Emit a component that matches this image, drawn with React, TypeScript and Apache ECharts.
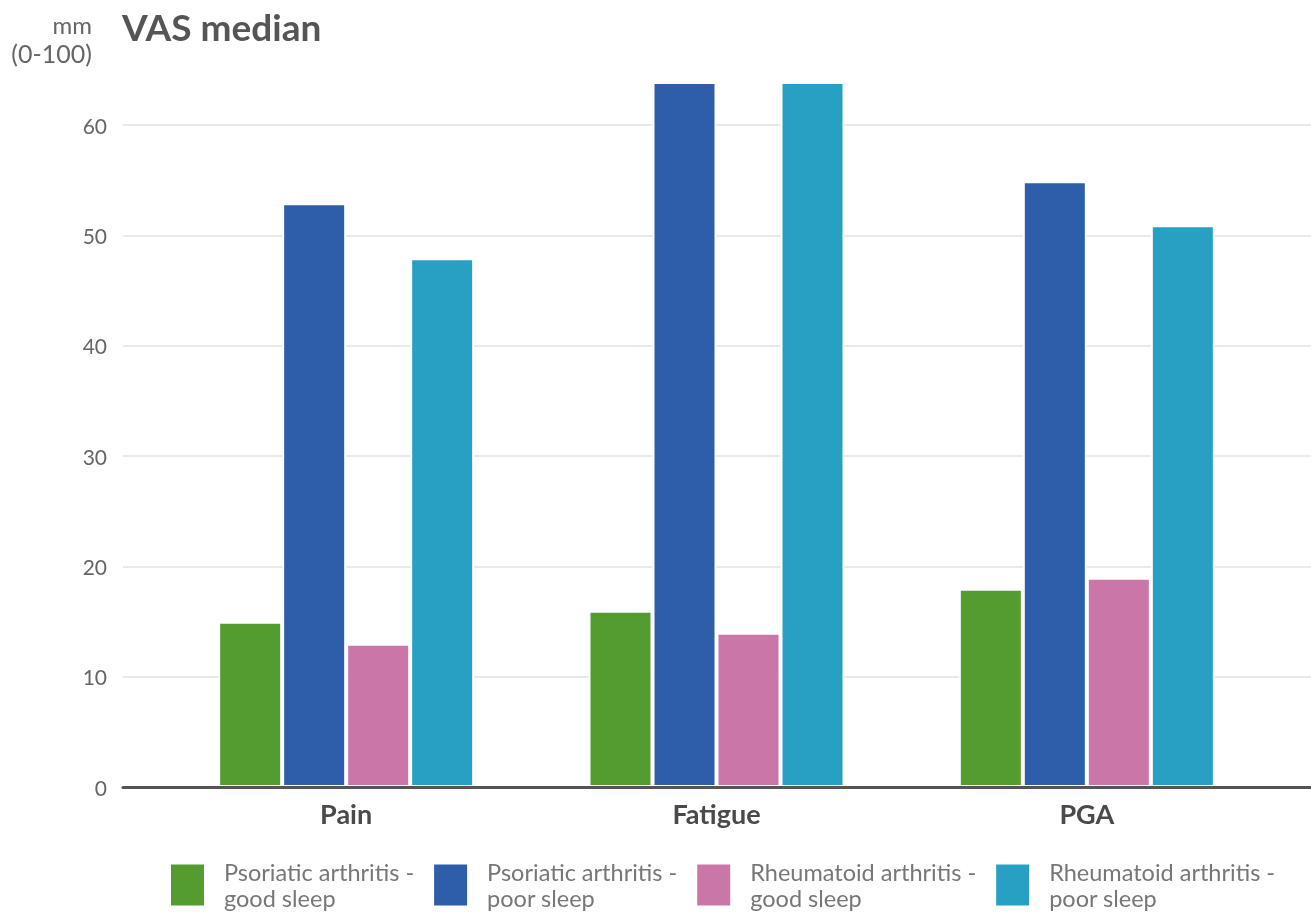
import React, { useEffect, useRef } from "react";
import * as echarts from "echarts";

const categories = ["Pain", "Fatigue", "PGA"];
const seriesNames = [
  "Psoriatic arthritis - good sleep",
  "Psoriatic arthritis - poor sleep",
  "Rheumatoid arthritis - good sleep",
  "Rheumatoid arthritis - poor sleep",
];
const psaGood = [15, 16, 18];
const psaPoor = [53, 64, 55];
const raGood = [13, 14, 19];
const raPoor = [48, 64, 51];
const colors = ["#549C30", "#2E5EAA", "#CB76A9", "#27A0C4"];
const FONT = "Lato, 'Noto Sans', sans-serif";

export default function App() {
  const ref = useRef<HTMLDivElement>(null);
  useEffect(() => {
    if (!ref.current) return;
    const chart = echarts.init(ref.current, undefined, { renderer: "svg" });
    const values = [psaGood, psaPoor, raGood, raPoor];
    chart.setOption({
      animation: false,
      textStyle: { fontFamily: FONT },
      grid: [
        { left: 161, right: 39, top: 82, bottom: 126 },
        { left: 123, right: 0, top: 125, bottom: 126 },
      ],
      xAxis: [
        {
          type: "category",
          gridIndex: 0,
          data: categories,
          axisLine: { show: false },
          axisTick: { show: false },
          axisLabel: {
            margin: 13,
            fontSize: 27,
            fontWeight: "bold",
            color: "#4a4a4a",
            fontFamily: FONT,
          },
        },
        {
          type: "value",
          gridIndex: 1,
          min: 0,
          max: 1,
          z: 10,
          axisLine: { show: true, lineStyle: { color: "#555", width: 3 } },
          axisTick: { show: false },
          axisLabel: { show: false },
          splitLine: { show: false },
        },
      ],
      yAxis: [
        {
          type: "value",
          gridIndex: 0,
          min: 0,
          max: 64,
          show: false,
          splitLine: { show: false },
        },
        {
          type: "value",
          gridIndex: 1,
          min: 0,
          max: 60,
          interval: 10,
          axisLine: { show: false },
          axisTick: { show: false },
          axisLabel: { margin: 16, fontSize: 21, color: "#666", fontFamily: FONT },
          splitLine: { lineStyle: { color: "#e2e2e2", width: 1.5 } },
        },
      ],
      legend: {
        left: 164,
        top: 854,
        itemWidth: 35,
        itemHeight: 43,
        itemGap: 18,
        icon: "rect",
        data: seriesNames,
        formatter: (n: string) => n.replace(" - ", " -\n"),
        textStyle: {
          fontSize: 23.5,
          color: "#777",
          lineHeight: 26,
          fontFamily: FONT,
          padding: [0, 0, 0, 14],
        },
      },
      graphic: [
        {
          type: "text",
          left: 122,
          top: 8,
          style: { text: "VAS median", fontSize: 37, fontWeight: "bold", fill: "#555", fontFamily: FONT },
        },
        {
          type: "text",
          x: 92,
          y: 24,
          style: { text: "mm", fontSize: 24, fill: "#666", textAlign: "right", textVerticalAlign: "middle", fontFamily: FONT },
        },
        {
          type: "text",
          x: 92,
          y: 53,
          style: { text: "(0-100)", fontSize: 25, fill: "#666", textAlign: "right", textVerticalAlign: "middle", fontFamily: FONT },
        },
      ],
      series: seriesNames.map((name, i) => ({
        name,
        type: "bar",
        xAxisIndex: 0,
        yAxisIndex: 0,
        data: values[i],
        barWidth: 64,
        barGap: "0%",
        itemStyle: { color: colors[i], borderColor: "#fff", borderWidth: 2 },
      })),
    });
    return () => chart.dispose();
  }, []);
  return <div ref={ref} style={{ position: "fixed", left: 0, top: 0, width: 1311, height: 913 }} />;
}
